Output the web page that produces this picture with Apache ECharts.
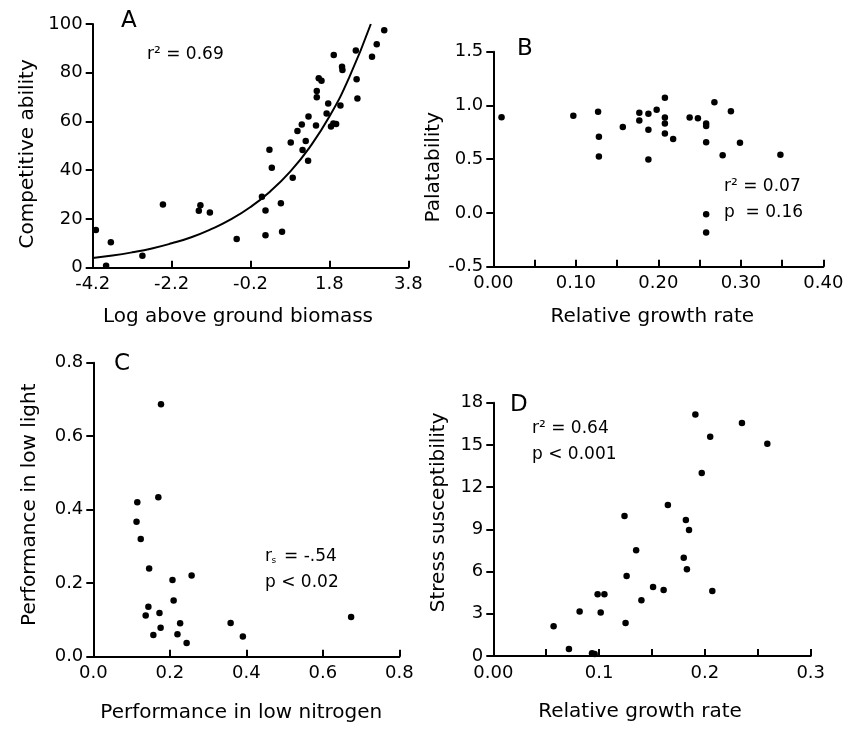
<!DOCTYPE html>
<html>
<head>
<meta charset="utf-8">
<script src="https://cdn.jsdelivr.net/npm/echarts@6/dist/echarts.min.js"></script>
<style>
html,body{margin:0;padding:0;background:#fff;}
#chart{width:857px;height:735px;}
</style>
</head>
<body>
<div id="chart"></div>
<script>
// Panel A: Competitive ability vs Log above ground biomass
const aX = [-4.12,-3.86,-3.74,-2.94,-2.42,-1.51,-1.47,-1.23,-0.55,0.09,0.18,0.18,0.28,0.34,0.57,0.60,0.82,0.87,0.99,1.10,1.12,1.20,1.26,1.27,1.46,1.48,1.48,1.53,1.60,1.73,1.77,1.84,1.90,1.97,1.91,2.08,2.12,2.13,2.47,2.49,2.51,2.88,3.00,3.19];
const aY = [15.5,0.8,10.4,4.9,25.9,23.4,25.6,22.7,11.8,29.1,23.5,13.3,48.4,41.0,26.4,14.8,51.4,36.9,56.1,58.8,48.3,52.0,43.9,62.0,58.4,69.9,72.5,77.7,76.7,63.3,67.4,57.9,59.2,59.0,87.3,66.6,82.5,81.1,89.1,77.3,69.4,86.6,91.7,97.4];
// Fitted curve
const curveX = [-4.2,-3.7,-3.2,-2.7,-2.2,-1.7,-1.2,-0.7,-0.2,0.3,0.8,1.3,1.8,2.3,2.85];
const curveY = [4.0,5.0,6.3,7.9,10.0,12.5,15.8,19.8,24.9,31.3,39.3,49.4,62.0,78.0,100.0];
const aXTicks = [-4.2,-2.2,-0.2,1.8,3.8];

// Panel B: Palatability vs Relative growth rate
const bX = [0.010,0.097,0.127,0.128,0.128,0.157,0.177,0.177,0.188,0.188,0.188,0.198,0.208,0.208,0.208,0.208,0.218,0.238,0.248,0.258,0.258,0.258,0.258,0.258,0.268,0.278,0.288,0.299,0.348];
const bY = [0.89,0.905,0.942,0.709,0.526,0.799,0.933,0.861,0.923,0.774,0.498,0.960,1.072,0.889,0.833,0.740,0.688,0.889,0.880,0.833,0.809,0.657,-0.013,-0.181,1.029,0.536,0.945,0.653,0.542];

// Panel C: Performance in low light vs Performance in low nitrogen
const cX = [0.177,0.170,0.115,0.113,0.124,0.146,0.257,0.207,0.210,0.144,0.173,0.137,0.227,0.359,0.176,0.157,0.220,0.391,0.244,0.674];
const cY = [0.687,0.434,0.420,0.367,0.320,0.240,0.221,0.209,0.153,0.136,0.119,0.112,0.091,0.092,0.079,0.059,0.061,0.055,0.037,0.108];

// Panel D: Stress susceptibility vs Relative growth rate
const dX = [0.057,0.0715,0.0816,0.0933,0.0958,0.0986,0.105,0.1015,0.124,0.125,0.126,0.135,0.140,0.151,0.161,0.165,0.180,0.182,0.183,0.185,0.191,0.197,0.205,0.207,0.2216,0.235,0.259];
const dY = [2.11,0.50,3.17,0.19,0.14,4.38,4.38,3.10,9.95,2.34,5.68,7.51,3.96,4.90,4.69,10.73,6.99,9.66,6.16,8.95,17.17,13.00,15.58,4.62,18.05,16.56,15.09];

const FONT = 'DejaVu Sans';
const zip = (xs, ys) => xs.map((x, i) => [x, ys[i]]);

function axisBase(isX) {
  return {
    type: 'value',
    axisLine: { show: true, onZero: false, lineStyle: { color: '#000', width: 2 } },
    axisTick: { show: true, inside: isX, length: 7, lineStyle: { color: '#000', width: 2 } },
    splitLine: { show: false },
    axisLabel: { color: '#000', fontSize: 18, fontFamily: FONT, margin: isX ? 8 : 10 },
    nameLocation: 'middle',
    nameTextStyle: { color: '#000', fontSize: 20, fontFamily: FONT }
  };
}
function mk(isX, extra) {
  const b = axisBase(isX);
  const o = Object.assign({}, b, extra);
  if (extra.axisLabel) o.axisLabel = Object.assign({}, b.axisLabel, extra.axisLabel);
  if (extra.nameTextStyle) o.nameTextStyle = Object.assign({}, b.nameTextStyle, extra.nameTextStyle);
  return o;
}

const dot = { color: '#000', opacity: 1 };
const txt = (x, y, text, size) => ({
  type: 'text', x: x, y: y, silent: true,
  style: { text: text, fill: '#000', font: (size || 17) + 'px "' + FONT + '"', verticalAlign: 'middle', align: 'left' }
});

const option = {
  backgroundColor: '#fff',
  animation: false,
  grid: [
    { left: 92.7, top: 24, width: 315.6, height: 243.7 },
    { left: 493.3, top: 51.7, width: 330, height: 215 },
    { left: 93.3, top: 362.7, width: 306, height: 294 },
    { left: 493.3, top: 402.7, width: 317.4, height: 253.3 }
  ],
  xAxis: [
    mk(true, { gridIndex: 0, min: aXTicks[0], max: aXTicks[aXTicks.length - 1], interval: 2,
      axisLabel: { formatter: v => v.toFixed(1) },
      name: 'Log above ground biomass', nameGap: 39, nameTextStyle: { padding: [0, 25, 0, 0] } }),
    mk(true, { gridIndex: 1, min: 0, max: 0.4, interval: 0.05,
      axisLabel: { formatter: v => (Math.round(v * 100) % 10 === 0 ? v.toFixed(2) : '') },
      name: 'Relative growth rate', nameGap: 40, nameTextStyle: { padding: [0, 12, 0, 0] } }),
    mk(true, { gridIndex: 2, min: 0, max: 0.8, interval: 0.2,
      axisLabel: { formatter: v => v.toFixed(1) },
      name: 'Performance in low nitrogen', nameGap: 46, nameTextStyle: { padding: [0, 10, 0, 0] } }),
    mk(true, { gridIndex: 3, min: 0, max: 0.3, interval: 0.05,
      axisLabel: { formatter: v => { const k = Math.round(v * 100); return k === 0 ? '0.00' : (k % 10 === 0 ? v.toFixed(1) : ''); } },
      name: 'Relative growth rate', nameGap: 46, nameTextStyle: { padding: [0, 24, 0, 0] } })
  ],
  yAxis: [
    mk(false, { gridIndex: 0, min: 0, max: 100, interval: 20,
      name: 'Competitive ability', nameGap: 55, nameTextStyle: { padding: [0, 16, 0, 0] } }),
    mk(false, { gridIndex: 1, min: -0.5, max: 1.5, interval: 0.5,
      axisLabel: { formatter: v => v.toFixed(1) },
      name: 'Palatability', nameGap: 45, nameTextStyle: { padding: [0, 16, 0, 0] } }),
    mk(false, { gridIndex: 2, min: 0, max: 0.8, interval: 0.2,
      axisLabel: { formatter: v => v.toFixed(1) },
      name: 'Performance in low light', nameGap: 54, nameTextStyle: { padding: [0, 0, 0, 10] } }),
    mk(false, { gridIndex: 3, min: 0, max: 18, interval: 3,
      name: 'Stress susceptibility', nameGap: 45, nameTextStyle: { padding: [0, 0, 0, 34] } })
  ],
  series: [
    { type: 'scatter', xAxisIndex: 0, yAxisIndex: 0, data: zip(aX, aY), symbolSize: 6.5, itemStyle: dot },
    { type: 'line', xAxisIndex: 0, yAxisIndex: 0, data: zip(curveX, curveY), smooth: true, showSymbol: false, symbol: 'none',
      lineStyle: { color: '#000', width: 2 } },
    { type: 'scatter', xAxisIndex: 1, yAxisIndex: 1, data: zip(bX, bY), symbolSize: 6.5, itemStyle: dot },
    { type: 'scatter', xAxisIndex: 2, yAxisIndex: 2, data: zip(cX, cY), symbolSize: 6.5, itemStyle: dot },
    { type: 'scatter', xAxisIndex: 3, yAxisIndex: 3, data: zip(dX, dY), symbolSize: 6.5, itemStyle: dot }
  ],
  graphic: [
    txt(121, 21, 'A', 23),
    txt(517, 49, 'B', 23),
    txt(114, 364, 'C', 23),
    txt(510, 405, 'D', 23),
    txt(147, 55, 'r² = 0.69'),
    txt(724, 187, 'r² = 0.07'),
    txt(724, 213, 'p  = 0.16'),
    txt(265, 557, 'r'),
    txt(271.5, 561, 's', 9),
    txt(284, 557, '= -.54'),
    txt(265, 583, 'p < 0.02'),
    txt(532, 429, 'r² = 0.64'),
    txt(532, 455, 'p < 0.001')
  ]
};

const chart = echarts.init(document.getElementById('chart'), null, { renderer: 'canvas' });
chart.setOption(option);
</script>
</body>
</html>
